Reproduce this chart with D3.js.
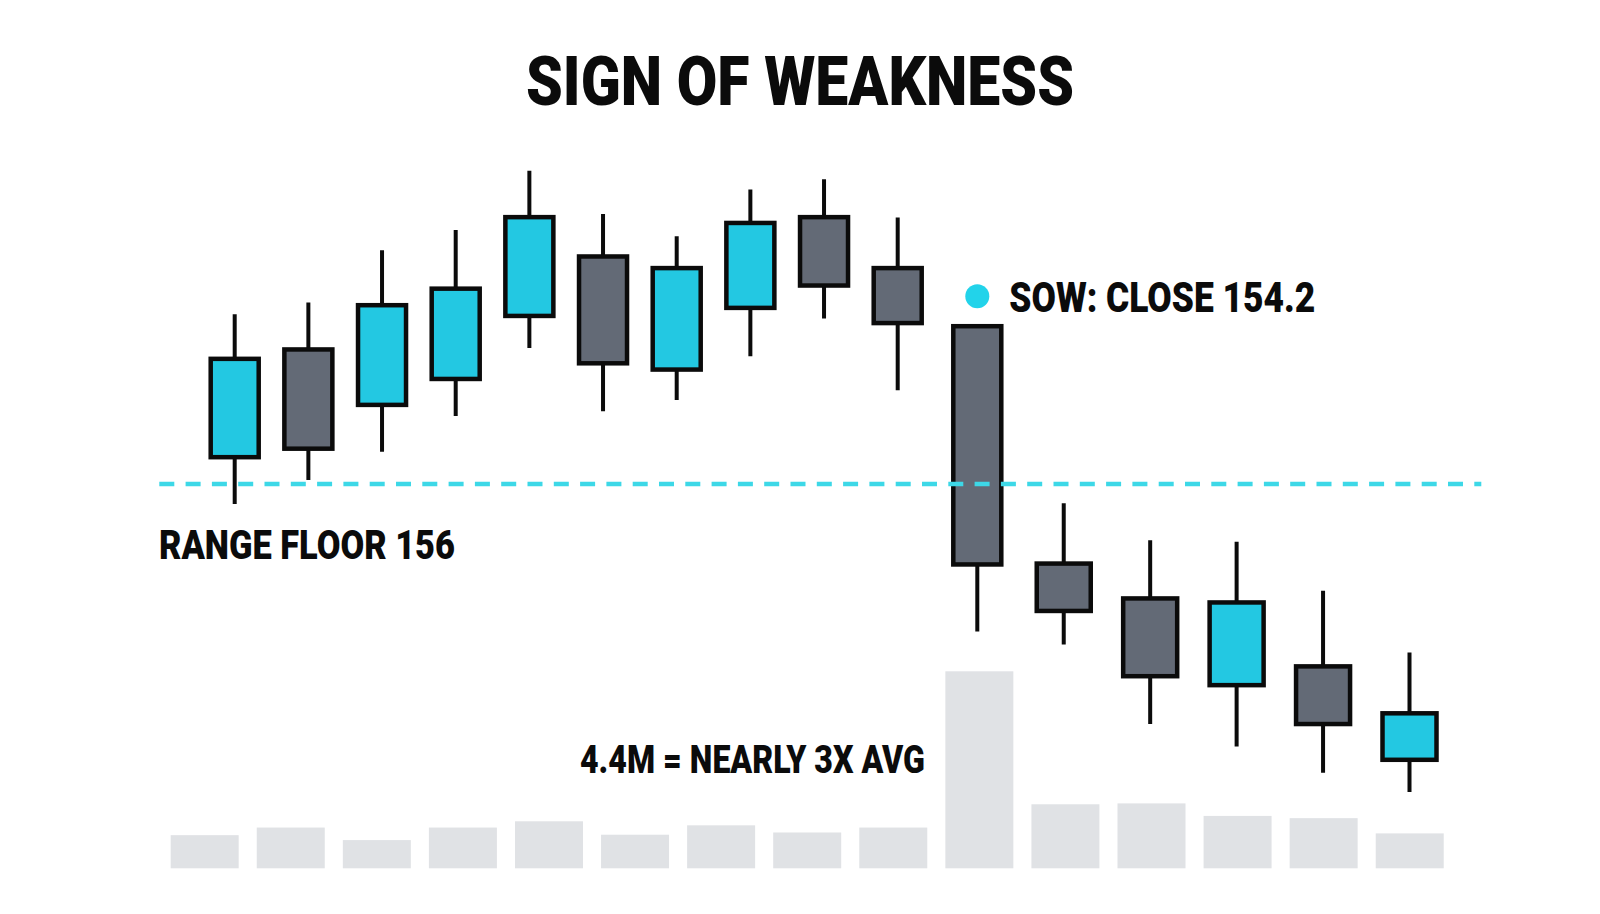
<!DOCTYPE html>
<html>
<head>
<meta charset="utf-8">
<script src="https://cdn.jsdelivr.net/npm/d3@7"></script>
<style>
  html, body { margin: 0; padding: 0; background: #ffffff; }
  svg { display: block; }
  text { font-family: Roboto, "Liberation Sans", sans-serif; font-weight: 900; fill: #0b0b0b; }
</style>
</head>
<body>
<div id="chart"></div>
<script>
const width = 1600;
const height = 914;

// price bars, oldest first (index 10 is the sign-of-weakness bar)
const opens  = [156.60, 159.01, 157.77, 158.35, 159.76, 161.09, 158.56, 159.94, 161.97, 160.83, 159.53, 154.22, 153.44, 151.50, 151.92, 149.83];
const highs  = [159.80, 160.06, 161.23, 161.68, 163.01, 162.04, 161.54, 162.59, 162.82, 161.96, 159.55, 155.57, 154.74, 154.71, 153.61, 152.23];
const lows   = [155.55, 156.09, 156.72, 157.52, 159.04, 157.63, 157.88, 158.86, 159.70, 158.10, 152.70, 152.41, 150.63, 150.13, 149.54, 149.11];
const closes = [158.80, 156.79, 160.00, 160.37, 161.97, 158.70, 160.83, 161.84, 160.44, 159.60, 154.20, 153.16, 151.70, 153.35, 150.63, 150.87];

// volume in millions
const volumes = [0.74, 0.91, 0.63, 0.91, 1.05, 0.75, 0.96, 0.80, 0.91, 4.4, 1.43, 1.45, 1.17, 1.12, 0.78];

const sowIndex = 10;
const rangeFloor = 156;
const titleText = "SIGN OF WEAKNESS";
const floorLabel = "RANGE FLOOR 156";
const sowLabel = "SOW: CLOSE 154.2";
const volLabel = "4.4M = NEARLY 3X AVG";

const upColor = "#23c8e2";
const downColor = "#636a76";
const outline = "#0b0b0b";
const accent = "#3dd8e7";

const candles = opens.map((o, i) => ({
  i: i, open: o, high: highs[i], low: lows[i], close: closes[i]
}));

const svg = d3.select("#chart")
  .append("svg")
  .attr("width", width)
  .attr("height", height);

// spacing tightens before the SOW bar, widens after it
const x = d3.scaleLinear()
  .domain([0, 9, 10, 15])
  .range([234.7, 897.7, 977.3, 1409.5]);

const y = d3.scaleLinear()
  .domain([149, 163])
  .range([796.9, 171.1]);

const xVol = d3.scaleBand()
  .domain(d3.range(volumes.length))
  .range([152.6, 1461.8])
  .paddingInner(0.21)
  .paddingOuter(0.21);

const yVol = d3.scaleLinear()
  .domain([0, 4.4])
  .range([868.3, 671.3]);

// volume
svg.append("g")
  .selectAll("rect")
  .data(volumes)
  .join("rect")
  .attr("x", (d, i) => xVol(i))
  .attr("y", d => yVol(d))
  .attr("width", xVol.bandwidth())
  .attr("height", d => yVol(0) - yVol(d))
  .style("fill", "#e0e2e5");

const bodyW = i => i <= sowIndex ? 48 : 54;

const g = svg.append("g");

g.selectAll("line.wick")
  .data(candles)
  .join("line")
  .attr("class", "wick")
  .attr("x1", d => x(d.i))
  .attr("x2", d => x(d.i))
  .attr("y1", d => y(d.high))
  .attr("y2", d => y(d.low))
  .style("stroke", outline)
  .style("stroke-width", 4);

g.selectAll("rect.body")
  .data(candles)
  .join("rect")
  .attr("class", "body")
  .attr("x", d => x(d.i) - bodyW(d.i) / 2)
  .attr("y", d => y(Math.max(d.open, d.close)))
  .attr("width", d => bodyW(d.i))
  .attr("height", d => Math.abs(y(d.open) - y(d.close)))
  .style("fill", d => d.close >= d.open ? upColor : downColor)
  .style("stroke", outline)
  .style("stroke-width", 4.5);

// range floor, drawn over the candles
svg.append("line")
  .attr("x1", 159.3)
  .attr("x2", 1481.3)
  .attr("y1", y(rangeFloor))
  .attr("y2", y(rangeFloor))
  .style("stroke", accent)
  .style("stroke-width", 4.5)
  .style("stroke-dasharray", "15,11.3");

// title
svg.append("text")
  .attr("x", 800)
  .attr("y", 105)
  .attr("text-anchor", "middle")
  .attr("textLength", 548)
  .attr("lengthAdjust", "spacingAndGlyphs")
  .style("font-size", "68px")
  .text(titleText);

svg.append("text")
  .attr("x", 159)
  .attr("y", 559)
  .attr("textLength", 296)
  .attr("lengthAdjust", "spacingAndGlyphs")
  .style("font-size", "40px")
  .text(floorLabel);

// SOW callout
const sow = candles[sowIndex];
svg.append("circle")
  .attr("cx", x(sow.i))
  .attr("cy", y(sow.open) - 30)
  .attr("r", 12)
  .style("fill", "#22d3ea");

svg.append("text")
  .attr("x", x(sow.i) + 32)
  .attr("y", y(sow.open) - 14.5)
  .attr("textLength", 306)
  .attr("lengthAdjust", "spacingAndGlyphs")
  .style("font-size", "42px")
  .text(sowLabel);

svg.append("text")
  .attr("x", 580)
  .attr("y", 772.5)
  .attr("textLength", 345)
  .attr("lengthAdjust", "spacingAndGlyphs")
  .style("font-size", "39px")
  .text(volLabel);
</script>
</body>
</html>
